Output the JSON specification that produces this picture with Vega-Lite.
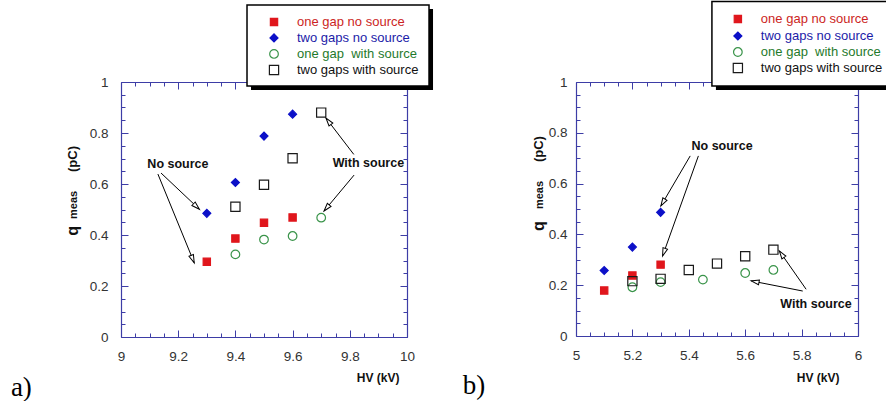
{
"$schema": "https://vega.github.io/schema/vega-lite/v6.json",
"padding": {"left": 10, "top": 0, "right": 0, "bottom": 0},
"bounds": "flush",
"spacing": 169,
"config": {"view": {"stroke": null}, "font": "Liberation Sans", "axis": {"labelFont": "Liberation Sans", "titleFont": "Liberation Sans"}},
"datasets": {
"pts": [
{"panel":"a","series":"one gap no source","hv":9.3,"q":0.295},
{"panel":"a","series":"one gap no source","hv":9.4,"q":0.386},
{"panel":"a","series":"one gap no source","hv":9.5,"q":0.448},
{"panel":"a","series":"one gap no source","hv":9.6,"q":0.469},
{"panel":"a","series":"two gaps no source","hv":9.3,"q":0.485},
{"panel":"a","series":"two gaps no source","hv":9.4,"q":0.606},
{"panel":"a","series":"two gaps no source","hv":9.5,"q":0.788},
{"panel":"a","series":"two gaps no source","hv":9.6,"q":0.874},
{"panel":"a","series":"one gap\u00a0 with source","hv":9.4,"q":0.324},
{"panel":"a","series":"one gap\u00a0 with source","hv":9.5,"q":0.382},
{"panel":"a","series":"one gap\u00a0 with source","hv":9.6,"q":0.396},
{"panel":"a","series":"one gap\u00a0 with source","hv":9.7,"q":0.468},
{"panel":"a","series":"two gaps with source","hv":9.4,"q":0.511},
{"panel":"a","series":"two gaps with source","hv":9.5,"q":0.597},
{"panel":"a","series":"two gaps with source","hv":9.6,"q":0.701},
{"panel":"a","series":"two gaps with source","hv":9.7,"q":0.880},
{"panel":"b","series":"one gap no source","hv":5.1,"q":0.179},
{"panel":"b","series":"one gap no source","hv":5.2,"q":0.238},
{"panel":"b","series":"one gap no source","hv":5.3,"q":0.281},
{"panel":"b","series":"two gaps no source","hv":5.1,"q":0.258},
{"panel":"b","series":"two gaps no source","hv":5.2,"q":0.350},
{"panel":"b","series":"two gaps no source","hv":5.3,"q":0.487},
{"panel":"b","series":"one gap\u00a0 with source","hv":5.2,"q":0.192},
{"panel":"b","series":"one gap\u00a0 with source","hv":5.3,"q":0.212},
{"panel":"b","series":"one gap\u00a0 with source","hv":5.45,"q":0.222},
{"panel":"b","series":"one gap\u00a0 with source","hv":5.6,"q":0.248},
{"panel":"b","series":"one gap\u00a0 with source","hv":5.7,"q":0.260},
{"panel":"b","series":"two gaps with source","hv":5.2,"q":0.216},
{"panel":"b","series":"two gaps with source","hv":5.3,"q":0.225},
{"panel":"b","series":"two gaps with source","hv":5.4,"q":0.260},
{"panel":"b","series":"two gaps with source","hv":5.5,"q":0.285},
{"panel":"b","series":"two gaps with source","hv":5.6,"q":0.314},
{"panel":"b","series":"two gaps with source","hv":5.7,"q":0.340}
],
"legend": [
{"panel":"a","series":"one gap no source","sx":9.535,"ly":1.235},
{"panel":"a","series":"two gaps no source","sx":9.535,"ly":1.173},
{"panel":"a","series":"one gap\u00a0 with source","sx":9.535,"ly":1.110},
{"panel":"a","series":"two gaps with source","sx":9.535,"ly":1.047},
{"panel":"b","series":"one gap no source","sx":5.574,"ly":1.248},
{"panel":"b","series":"two gaps no source","sx":5.574,"ly":1.181},
{"panel":"b","series":"one gap\u00a0 with source","sx":5.574,"ly":1.118},
{"panel":"b","series":"two gaps with source","sx":5.574,"ly":1.055}
],
"boxes": [
{"panel":"a","x1":9.4406,"x2":10.077,"y1":1.302,"y2":0.984},
{"panel":"b","x1":5.482,"x2":6.135,"y1":1.317,"y2":0.984}
],
"arrows": [
{"panel":"a","x":9.140,"y":0.643,"x2":9.274,"y2":0.501},
{"panel":"a","x":9.129,"y":0.639,"x2":9.256,"y2":0.291},
{"panel":"a","x":9.814,"y":0.716,"x2":9.717,"y2":0.858},
{"panel":"a","x":9.815,"y":0.635,"x2":9.710,"y2":0.494},
{"panel":"b","x":5.405,"y":0.709,"x2":5.301,"y2":0.512},
{"panel":"b","x":5.434,"y":0.709,"x2":5.307,"y2":0.315},
{"panel":"b","x":5.816,"y":0.184,"x2":5.721,"y2":0.335},
{"panel":"b","x":5.804,"y":0.177,"x2":5.621,"y2":0.217}
],
"notes": [
{"panel":"a","kind":"ann","text":"No source","x":9.199,"y":0.678},
{"panel":"a","kind":"ann","text":"With source","x":9.865,"y":0.682},
{"panel":"b","kind":"ann","text":"No source","x":5.518,"y":0.748},
{"panel":"b","kind":"ann","text":"With source","x":5.851,"y":0.126},
{"panel":"a","kind":"lab","text":"a)","x":8.615,"y":-0.231},
{"panel":"b","kind":"lab","text":"b)","x":4.598,"y":-0.228}
],
"ytitle": [
{"panel":"a","part":"q","x":8.832,"y":0.416},
{"panel":"a","part":"meas","x":8.836,"y":0.518},
{"panel":"a","part":"(pC)","x":8.832,"y":0.698},
{"panel":"b","part":"q","x":4.869,"y":0.433},
{"panel":"b","part":"meas","x":4.873,"y":0.555},
{"panel":"b","part":"(pC)","x":4.869,"y":0.736}
]
},
"hconcat": [
{
"width": 286, "height": 255,
"resolve": {"axis": {"x": "independent", "y": "independent"}},
"layer": [
{"data":{"name":"boxes"},"transform":[{"filter":"datum.panel=='a'"}],
 "mark":{"type":"rect","fill":"#000","xOffset":4,"x2Offset":4,"yOffset":4,"y2Offset":4},
 "encoding":{"x":{"field":"x1","type":"quantitative","scale":{"domain":[9,10],"nice":false},"axis":null},"x2":{"field":"x2"},
  "y":{"field":"y1","type":"quantitative","scale":{"domain":[0,1],"nice":false},"axis":null},"y2":{"field":"y2"}}},
{"data":{"name":"boxes"},"transform":[{"filter":"datum.panel=='a'"}],
 "mark":{"type":"rect","fill":"#fff","stroke":"#000","strokeWidth":1.5},
 "encoding":{"x":{"field":"x1","type":"quantitative","scale":{"domain":[9,10],"nice":false},"axis":null},"x2":{"field":"x2"},
  "y":{"field":"y1","type":"quantitative","scale":{"domain":[0,1],"nice":false},"axis":null},"y2":{"field":"y2"}}},
{"data":{"name":"legend"},"transform":[{"filter":"datum.panel=='a'"}],
 "mark":{"type":"point","opacity":1,"strokeWidth":1.2},
 "encoding":{"x":{"field":"sx","type":"quantitative","scale":{"domain":[9,10],"nice":false},"axis":null},
  "y":{"field":"ly","type":"quantitative","scale":{"domain":[0,1],"nice":false},"axis":null},
  "shape":{"field":"series","type":"nominal","scale":{"domain":["one gap no source","two gaps no source","one gap\u00a0 with source","two gaps with source"],"range":["square","diamond","circle","square"]},"legend":null},
  "fill":{"field":"series","type":"nominal","scale":{"domain":["one gap no source","two gaps no source","one gap\u00a0 with source","two gaps with source"],"range":["#e0161c","#0c10c8","transparent","transparent"]},"legend":null},
  "stroke":{"field":"series","type":"nominal","scale":{"domain":["one gap no source","two gaps no source","one gap\u00a0 with source","two gaps with source"],"range":["#e0161c","#0c10c8","#3a944a","#1a1a1a"]},"legend":null},
  "size":{"field":"series","type":"ordinal","scale":{"domain":["one gap no source","two gaps no source","one gap\u00a0 with source","two gaps with source"],"range":[53,85,81,55]},"legend":null}}},
{"data":{"name":"legend"},"transform":[{"filter":"datum.panel=='a'"}],
 "mark":{"type":"text","align":"left","baseline":"middle","dx":23,"fontSize":13},
 "encoding":{"x":{"field":"sx","type":"quantitative","scale":{"domain":[9,10],"nice":false},"axis":null},
  "y":{"field":"ly","type":"quantitative","scale":{"domain":[0,1],"nice":false},"axis":null},
  "text":{"field":"series"},
  "color":{"field":"series","type":"nominal","scale":{"domain":["one gap no source","two gaps no source","one gap\u00a0 with source","two gaps with source"],"range":["#cc1f24","#1c1ca8","#1f7a2c","#111111"]},"legend":null}}},
{"data":{"name":"pts"},"transform":[{"filter":"datum.panel=='a'"}],
 "mark":{"type":"point","opacity":1,"strokeWidth":1.2},
 "encoding":{"x":{"field":"hv","type":"quantitative","scale":{"domain":[9,10],"nice":false},
   "axis":{"orient":"bottom","values":[9,9.05,9.1,9.15,9.2,9.25,9.3,9.35,9.4,9.45,9.5,9.55,9.6,9.65,9.7,9.75,9.8,9.85,9.9,9.95,10],"format":".2~f","labelExpr":"round(datum.value*100)%20==0 ? datum.label : ''","labelFontSize":13.5,"labelColor":"#333","labelPadding":19,"labelFlush":false,"labelOverlap":false,"tickSize":{"condition":{"test":"round(datum.value*100)%20==0","value":-7},"value":-4},"tickColor":"#3d3da6","domainColor":"#3d3da6","domainWidth":1.2,"grid":false,"title":"HV (kV)","titleFontSize":12,"titleFontWeight":"bold","titleColor":"#111","titleAlign":"right","titleX":278,"titleY":40,"titleBaseline":"middle"}},
  "y":{"field":"q","type":"quantitative","scale":{"domain":[0,1],"nice":false},
   "axis":{"orient":"left","values":[0,0.05,0.1,0.15,0.2,0.25,0.3,0.35,0.4,0.45,0.5,0.55,0.6,0.65,0.7,0.75,0.8,0.85,0.9,0.95,1],"format":".2~f","labelExpr":"round(datum.value*100)%20==0 ? datum.label : ''","labelFontSize":13.5,"labelColor":"#333","labelPadding":20,"labelOverlap":false,"labelFlush":false,"tickSize":{"condition":{"test":"round(datum.value*100)%20==0","value":-7},"value":-4},"tickColor":"#3d3da6","domainColor":"#3d3da6","domainWidth":1.2,"grid":false,"title":null}},
  "shape":{"field":"series","type":"nominal","scale":{"domain":["one gap no source","two gaps no source","one gap\u00a0 with source","two gaps with source"],"range":["square","diamond","circle","square"]},"legend":null},
  "fill":{"field":"series","type":"nominal","scale":{"domain":["one gap no source","two gaps no source","one gap\u00a0 with source","two gaps with source"],"range":["#e0161c","#0c10c8","transparent","transparent"]},"legend":null},
  "stroke":{"field":"series","type":"nominal","scale":{"domain":["one gap no source","two gaps no source","one gap\u00a0 with source","two gaps with source"],"range":["#e0161c","#0c10c8","#3a944a","#1a1a1a"]},"legend":null},
  "size":{"field":"series","type":"ordinal","scale":{"domain":["one gap no source","two gaps no source","one gap\u00a0 with source","two gaps with source"],"range":[53,85,81,55]},"legend":null}}},
{"data":{"name":"arrows"},"transform":[{"filter":"datum.panel=='a'"}],
 "mark":{"type":"rule","color":"#000","strokeWidth":1},
 "encoding":{"x":{"field":"x","type":"quantitative","scale":{"domain":[9,10],"nice":false},
   "axis":{"orient":"top","values":[9,9.05,9.1,9.15,9.2,9.25,9.3,9.35,9.4,9.45,9.5,9.55,9.6,9.65,9.7,9.75,9.8,9.85,9.9,9.95,10],"labels":false,"tickSize":{"condition":{"test":"round(datum.value*100)%20==0","value":-7},"value":-4},"tickColor":"#3d3da6","domainColor":"#3d3da6","domainWidth":1.2,"grid":false,"title":null}},
  "x2":{"field":"x2"},
  "y":{"field":"y","type":"quantitative","scale":{"domain":[0,1],"nice":false},
   "axis":{"orient":"right","values":[0,0.05,0.1,0.15,0.2,0.25,0.3,0.35,0.4,0.45,0.5,0.55,0.6,0.65,0.7,0.75,0.8,0.85,0.9,0.95,1],"labels":false,"tickSize":{"condition":{"test":"round(datum.value*100)%20==0","value":-7},"value":-4},"tickColor":"#3d3da6","domainColor":"#3d3da6","domainWidth":1.2,"grid":false,"title":null}},
  "y2":{"field":"y2"}}},
{"data":{"name":"arrows"},"transform":[{"filter":"datum.panel=='a'"},{"calculate":"atan2((datum.x2-datum.x)*286,(datum.y2-datum.y)*255)*180/PI","as":"ang"}],
 "mark":{"type":"point","shape":"M0,0L-0.3,1L0.3,1Z","filled":true,"fill":"#fff","stroke":"#000","strokeWidth":1,"opacity":1,"size":256},
 "encoding":{"x":{"field":"x2","type":"quantitative","scale":{"domain":[9,10],"nice":false},"axis":null},
  "y":{"field":"y2","type":"quantitative","scale":{"domain":[0,1],"nice":false},"axis":null},
  "angle":{"field":"ang","type":"quantitative","scale":null}}},
{"data":{"name":"notes"},"transform":[{"filter":"datum.panel=='a' && datum.kind=='ann'"}],
 "mark":{"type":"text","fontWeight":"bold","fontSize":12.5,"align":"center","baseline":"middle","color":"#111"},
 "encoding":{"x":{"field":"x","type":"quantitative","scale":{"domain":[9,10],"nice":false},"axis":null},
  "y":{"field":"y","type":"quantitative","scale":{"domain":[0,1],"nice":false},"axis":null},
  "text":{"field":"text"}}},
{"data":{"name":"notes"},"transform":[{"filter":"datum.panel=='a' && datum.kind=='lab'"}],
 "mark":{"type":"text","font":"Liberation Serif","fontSize":27,"align":"left","baseline":"alphabetic","color":"#000"},
 "encoding":{"x":{"field":"x","type":"quantitative","scale":{"domain":[9,10],"nice":false},"axis":null},
  "y":{"field":"y","type":"quantitative","scale":{"domain":[0,1],"nice":false},"axis":null},
  "text":{"field":"text"}}},
{"data":{"name":"ytitle"},"transform":[{"filter":"datum.panel=='a' && datum.part=='q'"}],
 "mark":{"type":"text","angle":270,"fontWeight":"bold","fontSize":16,"align":"center","baseline":"middle","color":"#111"},
 "encoding":{"x":{"field":"x","type":"quantitative","scale":{"domain":[9,10],"nice":false},"axis":null},
  "y":{"field":"y","type":"quantitative","scale":{"domain":[0,1],"nice":false},"axis":null},
  "text":{"field":"part"}}},
{"data":{"name":"ytitle"},"transform":[{"filter":"datum.panel=='a' && datum.part=='meas'"}],
 "mark":{"type":"text","angle":270,"fontWeight":"bold","fontSize":11,"align":"center","baseline":"middle","color":"#111"},
 "encoding":{"x":{"field":"x","type":"quantitative","scale":{"domain":[9,10],"nice":false},"axis":null},
  "y":{"field":"y","type":"quantitative","scale":{"domain":[0,1],"nice":false},"axis":null},
  "text":{"field":"part"}}},
{"data":{"name":"ytitle"},"transform":[{"filter":"datum.panel=='a' && datum.part=='(pC)'"}],
 "mark":{"type":"text","angle":270,"fontWeight":"bold","fontSize":13,"align":"center","baseline":"middle","color":"#111"},
 "encoding":{"x":{"field":"x","type":"quantitative","scale":{"domain":[9,10],"nice":false},"axis":null},
  "y":{"field":"y","type":"quantitative","scale":{"domain":[0,1],"nice":false},"axis":null},
  "text":{"field":"part"}}}
]
},
{
"width": 282, "height": 254,
"resolve": {"axis": {"x": "independent", "y": "independent"}},
"layer": [
{"data":{"name":"boxes"},"transform":[{"filter":"datum.panel=='b'"}],
 "mark":{"type":"rect","fill":"#000","xOffset":4,"x2Offset":4,"yOffset":4,"y2Offset":4},
 "encoding":{"x":{"field":"x1","type":"quantitative","scale":{"domain":[5,6],"nice":false},"axis":null},"x2":{"field":"x2"},
  "y":{"field":"y1","type":"quantitative","scale":{"domain":[0,1],"nice":false},"axis":null},"y2":{"field":"y2"}}},
{"data":{"name":"boxes"},"transform":[{"filter":"datum.panel=='b'"}],
 "mark":{"type":"rect","fill":"#fff","stroke":"#000","strokeWidth":1.5},
 "encoding":{"x":{"field":"x1","type":"quantitative","scale":{"domain":[5,6],"nice":false},"axis":null},"x2":{"field":"x2"},
  "y":{"field":"y1","type":"quantitative","scale":{"domain":[0,1],"nice":false},"axis":null},"y2":{"field":"y2"}}},
{"data":{"name":"legend"},"transform":[{"filter":"datum.panel=='b'"}],
 "mark":{"type":"point","opacity":1,"strokeWidth":1.2},
 "encoding":{"x":{"field":"sx","type":"quantitative","scale":{"domain":[5,6],"nice":false},"axis":null},
  "y":{"field":"ly","type":"quantitative","scale":{"domain":[0,1],"nice":false},"axis":null},
  "shape":{"field":"series","type":"nominal","scale":{"domain":["one gap no source","two gaps no source","one gap\u00a0 with source","two gaps with source"],"range":["square","diamond","circle","square"]},"legend":null},
  "fill":{"field":"series","type":"nominal","scale":{"domain":["one gap no source","two gaps no source","one gap\u00a0 with source","two gaps with source"],"range":["#e0161c","#0c10c8","transparent","transparent"]},"legend":null},
  "stroke":{"field":"series","type":"nominal","scale":{"domain":["one gap no source","two gaps no source","one gap\u00a0 with source","two gaps with source"],"range":["#e0161c","#0c10c8","#3a944a","#1a1a1a"]},"legend":null},
  "size":{"field":"series","type":"ordinal","scale":{"domain":["one gap no source","two gaps no source","one gap\u00a0 with source","two gaps with source"],"range":[53,85,81,55]},"legend":null}}},
{"data":{"name":"legend"},"transform":[{"filter":"datum.panel=='b'"}],
 "mark":{"type":"text","align":"left","baseline":"middle","dx":23,"fontSize":13},
 "encoding":{"x":{"field":"sx","type":"quantitative","scale":{"domain":[5,6],"nice":false},"axis":null},
  "y":{"field":"ly","type":"quantitative","scale":{"domain":[0,1],"nice":false},"axis":null},
  "text":{"field":"series"},
  "color":{"field":"series","type":"nominal","scale":{"domain":["one gap no source","two gaps no source","one gap\u00a0 with source","two gaps with source"],"range":["#cc1f24","#1c1ca8","#1f7a2c","#111111"]},"legend":null}}},
{"data":{"name":"pts"},"transform":[{"filter":"datum.panel=='b'"}],
 "mark":{"type":"point","opacity":1,"strokeWidth":1.2},
 "encoding":{"x":{"field":"hv","type":"quantitative","scale":{"domain":[5,6],"nice":false},
   "axis":{"orient":"bottom","values":[5,5.05,5.1,5.15,5.2,5.25,5.3,5.35,5.4,5.45,5.5,5.55,5.6,5.65,5.7,5.75,5.8,5.85,5.9,5.95,6],"format":".2~f","labelExpr":"round(datum.value*100)%20==0 ? datum.label : ''","labelFontSize":13.5,"labelColor":"#333","labelPadding":19,"labelFlush":false,"labelOverlap":false,"tickSize":{"condition":{"test":"round(datum.value*100)%20==0","value":-7},"value":-4},"tickColor":"#3d3da6","domainColor":"#3d3da6","domainWidth":1.2,"grid":false,"title":"HV (kV)","titleFontSize":12,"titleFontWeight":"bold","titleColor":"#111","titleAlign":"right","titleX":263,"titleY":41,"titleBaseline":"middle"}},
  "y":{"field":"q","type":"quantitative","scale":{"domain":[0,1],"nice":false},
   "axis":{"orient":"left","values":[0,0.05,0.1,0.15,0.2,0.25,0.3,0.35,0.4,0.45,0.5,0.55,0.6,0.65,0.7,0.75,0.8,0.85,0.9,0.95,1],"format":".2~f","labelExpr":"round(datum.value*100)%20==0 ? datum.label : ''","labelFontSize":13.5,"labelColor":"#333","labelPadding":16,"labelOverlap":false,"labelFlush":false,"tickSize":{"condition":{"test":"round(datum.value*100)%20==0","value":-7},"value":-4},"tickColor":"#3d3da6","domainColor":"#3d3da6","domainWidth":1.2,"grid":false,"title":null}},
  "shape":{"field":"series","type":"nominal","scale":{"domain":["one gap no source","two gaps no source","one gap\u00a0 with source","two gaps with source"],"range":["square","diamond","circle","square"]},"legend":null},
  "fill":{"field":"series","type":"nominal","scale":{"domain":["one gap no source","two gaps no source","one gap\u00a0 with source","two gaps with source"],"range":["#e0161c","#0c10c8","transparent","transparent"]},"legend":null},
  "stroke":{"field":"series","type":"nominal","scale":{"domain":["one gap no source","two gaps no source","one gap\u00a0 with source","two gaps with source"],"range":["#e0161c","#0c10c8","#3a944a","#1a1a1a"]},"legend":null},
  "size":{"field":"series","type":"ordinal","scale":{"domain":["one gap no source","two gaps no source","one gap\u00a0 with source","two gaps with source"],"range":[53,85,81,55]},"legend":null}}},
{"data":{"name":"arrows"},"transform":[{"filter":"datum.panel=='b'"}],
 "mark":{"type":"rule","color":"#000","strokeWidth":1},
 "encoding":{"x":{"field":"x","type":"quantitative","scale":{"domain":[5,6],"nice":false},
   "axis":{"orient":"top","values":[5,5.05,5.1,5.15,5.2,5.25,5.3,5.35,5.4,5.45,5.5,5.55,5.6,5.65,5.7,5.75,5.8,5.85,5.9,5.95,6],"labels":false,"tickSize":{"condition":{"test":"round(datum.value*100)%20==0","value":-7},"value":-4},"tickColor":"#3d3da6","domainColor":"#3d3da6","domainWidth":1.2,"grid":false,"title":null}},
  "x2":{"field":"x2"},
  "y":{"field":"y","type":"quantitative","scale":{"domain":[0,1],"nice":false},
   "axis":{"orient":"right","values":[0,0.05,0.1,0.15,0.2,0.25,0.3,0.35,0.4,0.45,0.5,0.55,0.6,0.65,0.7,0.75,0.8,0.85,0.9,0.95,1],"labels":false,"tickSize":{"condition":{"test":"round(datum.value*100)%20==0","value":-7},"value":-4},"tickColor":"#3d3da6","domainColor":"#3d3da6","domainWidth":1.2,"grid":false,"title":null}},
  "y2":{"field":"y2"}}},
{"data":{"name":"arrows"},"transform":[{"filter":"datum.panel=='b'"},{"calculate":"atan2((datum.x2-datum.x)*282,(datum.y2-datum.y)*254)*180/PI","as":"ang"}],
 "mark":{"type":"point","shape":"M0,0L-0.3,1L0.3,1Z","filled":true,"fill":"#fff","stroke":"#000","strokeWidth":1,"opacity":1,"size":256},
 "encoding":{"x":{"field":"x2","type":"quantitative","scale":{"domain":[5,6],"nice":false},"axis":null},
  "y":{"field":"y2","type":"quantitative","scale":{"domain":[0,1],"nice":false},"axis":null},
  "angle":{"field":"ang","type":"quantitative","scale":null}}},
{"data":{"name":"notes"},"transform":[{"filter":"datum.panel=='b' && datum.kind=='ann'"}],
 "mark":{"type":"text","fontWeight":"bold","fontSize":12.5,"align":"center","baseline":"middle","color":"#111"},
 "encoding":{"x":{"field":"x","type":"quantitative","scale":{"domain":[5,6],"nice":false},"axis":null},
  "y":{"field":"y","type":"quantitative","scale":{"domain":[0,1],"nice":false},"axis":null},
  "text":{"field":"text"}}},
{"data":{"name":"notes"},"transform":[{"filter":"datum.panel=='b' && datum.kind=='lab'"}],
 "mark":{"type":"text","font":"Liberation Serif","fontSize":27,"align":"left","baseline":"alphabetic","color":"#000"},
 "encoding":{"x":{"field":"x","type":"quantitative","scale":{"domain":[5,6],"nice":false},"axis":null},
  "y":{"field":"y","type":"quantitative","scale":{"domain":[0,1],"nice":false},"axis":null},
  "text":{"field":"text"}}},
{"data":{"name":"ytitle"},"transform":[{"filter":"datum.panel=='b' && datum.part=='q'"}],
 "mark":{"type":"text","angle":270,"fontWeight":"bold","fontSize":16,"align":"center","baseline":"middle","color":"#111"},
 "encoding":{"x":{"field":"x","type":"quantitative","scale":{"domain":[5,6],"nice":false},"axis":null},
  "y":{"field":"y","type":"quantitative","scale":{"domain":[0,1],"nice":false},"axis":null},
  "text":{"field":"part"}}},
{"data":{"name":"ytitle"},"transform":[{"filter":"datum.panel=='b' && datum.part=='meas'"}],
 "mark":{"type":"text","angle":270,"fontWeight":"bold","fontSize":11,"align":"center","baseline":"middle","color":"#111"},
 "encoding":{"x":{"field":"x","type":"quantitative","scale":{"domain":[5,6],"nice":false},"axis":null},
  "y":{"field":"y","type":"quantitative","scale":{"domain":[0,1],"nice":false},"axis":null},
  "text":{"field":"part"}}},
{"data":{"name":"ytitle"},"transform":[{"filter":"datum.panel=='b' && datum.part=='(pC)'"}],
 "mark":{"type":"text","angle":270,"fontWeight":"bold","fontSize":13,"align":"center","baseline":"middle","color":"#111"},
 "encoding":{"x":{"field":"x","type":"quantitative","scale":{"domain":[5,6],"nice":false},"axis":null},
  "y":{"field":"y","type":"quantitative","scale":{"domain":[0,1],"nice":false},"axis":null},
  "text":{"field":"part"}}}
]
}
]
}
